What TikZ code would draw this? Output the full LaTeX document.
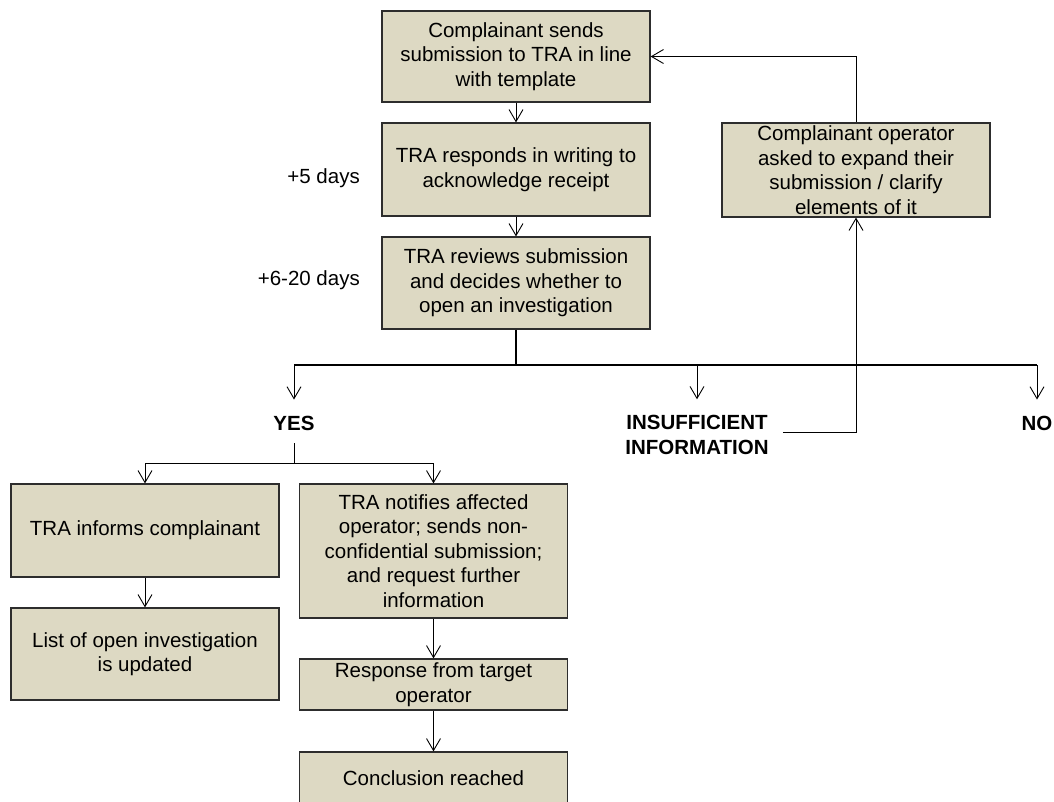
\documentclass[tikz,border=0pt]{standalone}
\usepackage{fontspec}
\setmainfont{Liberation Sans}
\usetikzlibrary{arrows.meta}
\definecolor{boxfill}{RGB}{221,217,195}
\definecolor{boxline}{RGB}{45,45,45}

\begin{document}
\begin{tikzpicture}[x=1pt, y=-1pt, font=\fontsize{20.5}{24.5}\selectfont,
    box/.style={draw=boxline, line width=1.2pt, fill=boxfill, align=center, inner sep=0pt, minimum width=268pt, minimum height=#1},
    box/.default=93pt,
    lab/.style={font=\fontsize{20.5}{24.5}\selectfont\bfseries, align=center, inner sep=0pt},
    arr/.style={-{Straight Barb[length=12pt,width=14pt]}, line width=0.9pt}]
    \useasboundingbox (0,0) rectangle (1054,801);

    % main column
    \node[box=91pt] (send) at (516,56.5) {Complainant sends\\submission to TRA  in line\\with template};
    \node[box] (ack) at (516,169.5) {TRA responds in writing to\\acknowledge receipt};
    \node[box=92pt] (review) at (516,283) {TRA reviews submission\\and decides whether to\\open an investigation};
    \node[box=94pt] (expand) at (856,170) {Complainant operator\\asked to expand their\\submission  / clarify\\elements of it};

    \node[anchor=east, inner sep=0pt] (days5) at (360,178) {+5 days};
    \node[anchor=east, inner sep=0pt] (days20) at (360,280) {+6-20 days};

    % outcomes
    \node[lab] (yes) at (294,423) {YES};
    \node[lab] (insuf) at (697,435) {INSUFFICIENT\\INFORMATION};
    \node[lab] (no) at (1037,423) {NO};
    \coordinate (split) at (516,365);
    \coordinate (yessplit) at (294,463);

    % yes branch
    \node[box] (inform) at (145,530.5) {TRA informs complainant};
    \node[box=92pt] (listupd) at (145,654) {List of open investigation\\is updated};
    \node[box=134pt] (notify) at (433.5,551) {TRA notifies affected\\operator; sends non-\\confidential submission;\\and request further\\information};
    \node[box=51pt] (response) at (433.5,684.5) {Response from target\\operator};
    \node[box=52pt] (concl) at (433.5,778) {Conclusion reached};

    \draw[arr] (send) -- (ack);
    \draw[arr] (ack) -- (review);
    \draw[arr] (expand.north) |- (send.east);

    \draw[line width=1.6pt] (review) -- (split);
    \draw[line width=1.4pt] (split -| yes) -- (split -| no);
    \draw[arr, shorten >=16pt] (split -| yes) -- (yes);
    \draw[arr, shorten >=16pt] (split -| insuf) -- (insuf);
    \draw[arr, shorten >=16pt] (split -| no) -- (no);
    \draw[arr] ([xshift=14pt, yshift=3pt]insuf.east) -| (expand.south);

    \draw[line width=0.9pt, shorten <=13pt] (yes) -- (yessplit);
    \draw[arr] (yessplit) -| (inform.north);
    \draw[arr] (yessplit) -| (notify.north);
    \draw[arr] (inform) -- (listupd);
    \draw[arr] (notify) -- (response);
    \draw[arr] (response) -- (concl);
\end{tikzpicture}
\end{document}
